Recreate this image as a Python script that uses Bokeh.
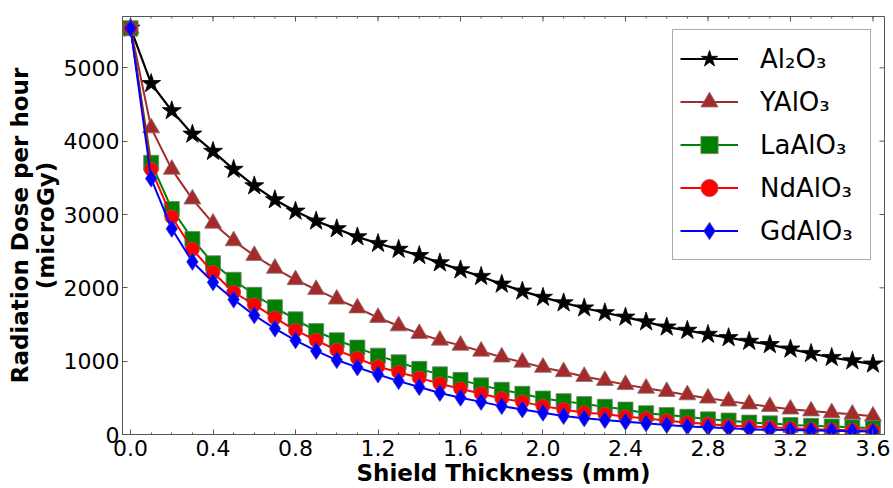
import math
from bokeh.plotting import figure
from bokeh.models import Range1d, FixedTicker, NumeralTickFormatter, Legend
from bokeh.embed import file_html
from bokeh.resources import INLINE

thickness = [0.0, 0.1, 0.2, 0.3, 0.4, 0.5, 0.6, 0.7, 0.8, 0.9, 1.0, 1.1, 1.2,
             1.3, 1.4, 1.5, 1.6, 1.7, 1.8, 1.9, 2.0, 2.1, 2.2, 2.3, 2.4, 2.5,
             2.6, 2.7, 2.8, 2.9, 3.0, 3.1, 3.2, 3.3, 3.4, 3.5, 3.6]

al2o3 = [5540, 4785, 4415, 4095, 3860, 3615, 3390, 3200, 3045, 2910, 2805, 2695,
         2605, 2525, 2440, 2340, 2245, 2155, 2050, 1955, 1870, 1795, 1725, 1660,
         1600, 1535, 1465, 1420, 1365, 1320, 1270, 1225, 1165, 1105, 1050, 1005, 960]
yalo3 = [5540, 4180, 3615, 3210, 2880, 2640, 2440, 2265, 2110, 1975, 1845, 1725,
         1595, 1480, 1375, 1285, 1215, 1135, 1055, 985, 915, 855, 790, 735,
         680, 630, 585, 540, 495, 455, 415, 380, 345, 320, 295, 275, 250]
laalo3 = [5540, 3705, 3075, 2665, 2335, 2110, 1905, 1735, 1570, 1410, 1285, 1185,
          1075, 985, 895, 820, 745, 670, 610, 555, 490, 455, 415, 378,
          340, 290, 265, 242, 207, 190, 162, 152, 130, 118, 108, 98, 86]
ndalo3 = [5540, 3615, 2965, 2525, 2210, 1940, 1770, 1590, 1420, 1285, 1150, 1040,
          925, 850, 772, 692, 624, 557, 490, 445, 387, 342, 297, 279,
          243, 220, 189, 162, 144, 118, 108, 98, 86, 70, 64, 60, 55]
gdalo3 = [5540, 3490, 2805, 2355, 2075, 1840, 1625, 1445, 1285, 1140, 1015, 915,
          818, 728, 647, 566, 502, 445, 387, 342, 297, 252, 220, 198,
          175, 152, 130, 108, 98, 86, 72, 64, 60, 55, 50, 45, 40]

series_names = ["Al₂O₃", "YAlO₃", "LaAlO₃", "NdAlO₃", "GdAlO₃"]
x_ticks = [0.0, 0.4, 0.8, 1.2, 1.6, 2.0, 2.4, 2.8, 3.2, 3.6]
y_ticks = [0, 1000, 2000, 3000, 4000, 5000]

FONT = "DejaVu Sans"
FRAME = "#555555"
X_START, X_END = -0.039, 3.656
Y_START, Y_END = 0, 5700

p = figure(width=893, height=488, output_backend="svg", toolbar_location=None,
           x_range=Range1d(X_START, X_END), y_range=Range1d(Y_START, Y_END),
           min_border_left=122, min_border_right=9, min_border_top=16,
           min_border_bottom=50)
p.background_fill_color = "white"
p.border_fill_color = "white"
p.outline_line_color = FRAME
p.outline_line_width = 1
p.grid.visible = False

xa = p.xaxis[0]
xa.ticker = FixedTicker(ticks=x_ticks, minor_ticks=thickness)
xa.formatter = NumeralTickFormatter(format="0.0")
xa.axis_label = "Shield Thickness (mm)"
ya = p.yaxis[0]
ya.ticker = FixedTicker(ticks=y_ticks)
ya.formatter = NumeralTickFormatter(format="0")
ya.axis_label = "Radiation Dose per hour\n(microGy)"

for ax in (xa, ya):
    ax.axis_line_color = FRAME
    ax.major_tick_line_color = FRAME
    ax.minor_tick_line_color = FRAME
    ax.major_tick_in = 5
    ax.major_tick_out = 0
    ax.minor_tick_in = 2
    ax.minor_tick_out = 0
    ax.major_label_text_font = FONT
    ax.major_label_text_font_size = "22px"
    ax.major_label_text_color = "black"
    ax.axis_label_text_font = FONT
    ax.axis_label_text_font_style = "bold"
    ax.axis_label_text_color = "black"
ya.minor_tick_line_color = None
xa.major_label_standoff = 5
xa.axis_label_standoff = 1
xa.axis_label_text_font_size = "23px"
ya.major_label_standoff = 3
ya.axis_label_standoff = 2
ya.axis_label_text_font_size = "23px"
ya.axis_label_text_line_height = 1.0

# mirrored inward ticks on the top and right edges of the frame
p.ray(x=x_ticks, y=Y_END, length=5, angle=-math.pi / 2, length_units="screen",
      line_color=FRAME, line_width=1)
p.ray(x=thickness, y=Y_END, length=2, angle=-math.pi / 2, length_units="screen",
      line_color=FRAME, line_width=1)
p.ray(x=X_END, y=y_ticks, length=5, angle=math.pi, length_units="screen",
      line_color=FRAME, line_width=1)

styles = [
    dict(color="black", marker="star", size=20, line_color="black", lw=2.2),
    dict(color="#a52a2a", marker="triangle", size=17, line_color="#8a7070", lw=2),
    dict(color="#008000", marker="square", size=15, line_color="#708070", lw=2),
    dict(color="#ff0000", marker="circle", size=14, line_color="#a05050", lw=2),
    dict(color="#0000ff", marker="diamond", size=17, line_color="#3030c0", lw=2),
]
values = [al2o3, yalo3, laalo3, ndalo3, gdalo3]

items = []
for name, ys, st in zip(series_names, values, styles):
    l = p.line(thickness, ys, line_color=st["color"], line_width=st["lw"])
    s = p.scatter(thickness, ys, marker=st["marker"], size=st["size"],
                  fill_color=st["color"], line_color=st["line_color"],
                  line_width=0.8)
    items.append((name, [l, s]))

legend = Legend(items=items, location="top_right")
legend.margin = 13
legend.padding = 7
legend.spacing = 0
legend.glyph_width = 58
legend.glyph_height = 43
legend.label_height = 43
legend.label_width = 103
legend.label_standoff = 22
legend.label_text_font = FONT
legend.label_text_font_size = "26px"
legend.label_text_color = "black"
legend.border_line_color = FRAME
legend.border_line_width = 1
legend.background_fill_color = "white"
legend.background_fill_alpha = 1
p.add_layout(legend, "center")

open("out.html", "w").write(file_html(p, INLINE))
